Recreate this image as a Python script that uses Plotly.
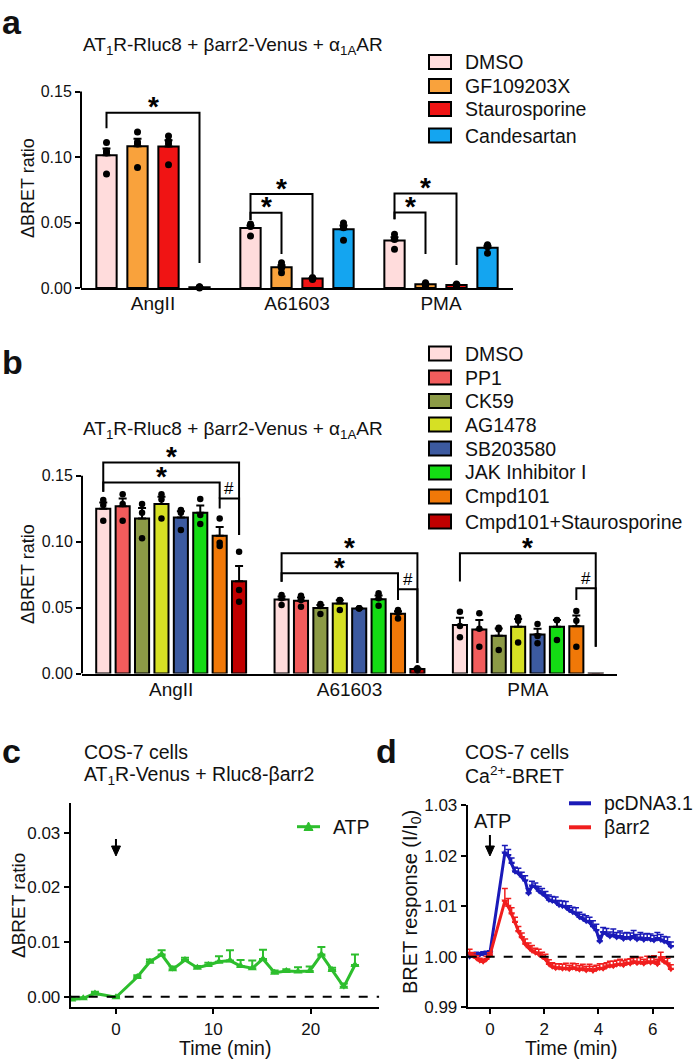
import numpy as np
import plotly.graph_objects as go

W, H = 693, 1062
FONT = "Arial, 'Liberation Sans', Helvetica, sans-serif"


def px(x):
    return x / W


def py(y):
    return 1 - y / H


# ---------------- Panel a data ----------------
a_groups = ["AngII", "A61603", "PMA"]
a_treatments = ["DMSO", "GF109203X", "Staurosporine", "Candesartan"]
a_colors = ["#FFDCDC", "#F9A23C", "#F01414", "#14A5F0"]
a_dmso = [[0.111, 0.1045, 0.103, 0.087], [0.0489, 0.0473, 0.047, 0.0397], [0.041, 0.0379, 0.037, 0.0295]]
a_gf = [[0.119, 0.1115, 0.110, 0.092], [0.0193, 0.017, 0.015, 0.0117], [0.004, 0.003, 0.0025, 0.002]]
a_stauro = [[0.116, 0.112, 0.110, 0.094], [0.0075, 0.008, 0.007, 0.0065], [0.003, 0.002, 0.0025, 0.002]]
a_cand = [[0.0005, 0.001, 0.0, 0.0008], [0.0496, 0.047, 0.046, 0.0365], [0.033, 0.032, 0.0315, 0.0265]]
a_reps = [a_dmso, a_gf, a_stauro, a_cand]
# significance brackets: (group, bar_from, bar_to, top, left_end, right_end, label)
a_brackets = [
    (0, 0, 3, 0.1338, 0.122, 0.019, "*"),
    (1, 0, 2, 0.0717, 0.052, 0.0107, "*"),
    (1, 0, 1, 0.0575, 0.052, 0.026, "*"),
    (2, 0, 2, 0.0722, 0.0524, 0.0175, "*"),
    (2, 0, 1, 0.0577, 0.0524, 0.026, "*"),
]

# ---------------- Panel b data ----------------
b_groups = ["AngII", "A61603", "PMA"]
b_treatments = ["DMSO", "PP1", "CK59", "AG1478", "SB203580", "JAK Inhibitor I",
                "Cmpd101", "Cmpd101+Staurosporine"]
b_colors = ["#FFDCDC", "#F25C5C", "#8C9A46", "#D6E024", "#3C5AA0", "#14DC14",
            "#F07808", "#C00000"]
b_dmso = [[0.1315, 0.1277, 0.1158], [0.0595, 0.057, 0.0519], [0.0468, 0.036, 0.0274]]
b_pp1 = [[0.136, 0.1285, 0.1158], [0.059, 0.0557, 0.0506], [0.0456, 0.034, 0.0203]]
b_ck59 = [[0.1285, 0.1219, 0.1025], [0.0527, 0.0512, 0.0451], [0.0347, 0.0335, 0.0178]]
b_ag1478 = [[0.136, 0.132, 0.1176], [0.0557, 0.0555, 0.0481], [0.0426, 0.040, 0.0236]]
b_sb = [[0.124, 0.1219, 0.1088], [0.0494, 0.0492, 0.0495], [0.0375, 0.0284, 0.0229]]
b_jak = [[0.1323, 0.1201, 0.1133], [0.0608, 0.057, 0.0514], [0.0406, 0.0404, 0.0254]]
b_cmpd = [[0.1176, 0.0991, 0.0966], [0.0481, 0.046, 0.0418], [0.0474, 0.040, 0.0203]]
b_cmpd_st = [[0.0923, 0.0633, 0.0544], [0.004, 0.0035, 0.0025], [-0.001, -0.0008, -0.0006]]
b_reps = [b_dmso, b_pp1, b_ck59, b_ag1478, b_sb, b_jak, b_cmpd, b_cmpd_st]
b_brackets = [
    (0, 0, 7, 0.160, 0.1378, 0.105, "*"),
    (0, 0, 6, 0.1449, 0.1378, 0.1328, "*"),
    (0, 6, 7, 0.1328, 0.1252, 0.105, "#"),
    (1, 0, 7, 0.0911, 0.0696, 0.008, "*"),
    (1, 0, 6, 0.076, 0.0696, 0.0638, "*"),
    (1, 6, 7, 0.0638, 0.0557, 0.008, "#"),
    (2, 0, 7, 0.0911, 0.0697, 0.0203, "*"),
    (2, 6, 7, 0.0646, 0.0557, 0.0203, "#"),
]

# ---------------- Panel c data ----------------
c_time = [-4.55, -3.36, -2.16, 0.0, 2.19, 3.49, 4.69, 5.82, 7.09, 8.36, 9.49, 10.58,
          11.71, 12.8, 14.0, 15.1, 16.3, 17.5, 18.7, 19.9, 21.1, 22.2, 23.4, 24.55]
c_atp = [-0.0005, -0.0003, 0.0006, -0.0001, 0.0036, 0.0064, 0.0077, 0.0050, 0.0067, 0.0053,
         0.0058, 0.0064, 0.0066, 0.0056, 0.0052, 0.0069, 0.0044, 0.0047, 0.0046, 0.0047,
         0.0077, 0.0049, 0.0018, 0.0058]
c_sem = [0.0003, 0.0002, 0.0003, 0.0002, 0.0003, 0.0004, 0.0008, 0.0005, 0.0004, 0.0003,
         0.0004, 0.0010, 0.0019, 0.0011, 0.0014, 0.0017, 0.0004, 0.0003, 0.0008, 0.0008,
         0.0014, 0.0004, 0.0006, 0.0019]

# ---------------- Panel d data ----------------
d_time = [-0.75, -0.625, -0.5, -0.375, -0.25, -0.125, 0.0,
          0.55, 0.675, 0.8, 0.925, 1.05, 1.175, 1.3, 1.425, 1.55, 1.675,
          1.8, 1.925, 2.05, 2.175, 2.3, 2.425, 2.55, 2.675, 2.8, 2.925,
          3.05, 3.175, 3.3, 3.425, 3.55, 3.675, 3.8, 3.925, 4.05, 4.175,
          4.3, 4.425, 4.55, 4.675, 4.8, 4.925, 5.05, 5.175, 5.3, 5.425,
          5.55, 5.675, 5.8, 5.925, 6.05, 6.175, 6.3, 6.425, 6.55, 6.675]
d_pcdna = [1.0000, 1.0003, 1.0005, 1.0004, 1.0006, 1.0007, 1.0008,
           1.0205, 1.0200, 1.0185, 1.0168, 1.0165, 1.0158, 1.0150, 1.0125, 1.0140, 1.0138,
           1.0130, 1.0125, 1.0120, 1.0112, 1.0110, 1.0108, 1.0102, 1.0100, 1.0098, 1.0092,
           1.0088, 1.0085, 1.0078, 1.0075, 1.0070, 1.0068, 1.0060, 1.0052, 1.0030, 1.0048,
           1.0045, 1.0040, 1.0043, 1.0038, 1.0040, 1.0035, 1.0038, 1.0036, 1.0040, 1.0034,
           1.0037, 1.0033, 1.0036, 1.0034, 1.0032, 1.0036, 1.0033, 1.0030, 1.0028, 1.0020]
d_pcdna_sem = [0.0004, 0.0004, 0.0004, 0.0004, 0.0004, 0.0004, 0.0004,
               0.0015, 0.0012, 0.0010, 0.0009, 0.0010, 0.0009, 0.0010, 0.0010, 0.0009, 0.0008,
               0.0009, 0.0010, 0.0009, 0.0010, 0.0009, 0.0010, 0.0009, 0.0010, 0.0011, 0.0009,
               0.0010, 0.0012, 0.0010, 0.0009, 0.0011, 0.0010, 0.0011, 0.0012, 0.0012, 0.0010,
               0.0011, 0.0009, 0.0012, 0.0010, 0.0011, 0.0012, 0.0010, 0.0011, 0.0012, 0.0010,
               0.0011, 0.0012, 0.0010, 0.0011, 0.0010, 0.0012, 0.0011, 0.0010, 0.0011, 0.0009]
d_barr2 = [1.0007, 1.0002, 0.9997, 0.9992, 0.9990, 0.9995, 1.0003,
           1.0110, 1.0100, 1.0085, 1.0068, 1.0050, 1.0038, 1.0025, 1.0018, 1.0012, 1.0008,
           1.0005, 1.0000, 0.9995, 0.9985, 0.9980, 0.9977, 0.9978, 0.9976, 0.9977, 0.9975,
           0.9978, 0.9976, 0.9974, 0.9976, 0.9973, 0.9975, 0.9972, 0.9975, 0.9977, 0.9976,
           0.9980, 0.9982, 0.9981, 0.9984, 0.9985, 0.9983, 0.9987, 0.9986, 0.9990, 0.9987,
           0.9989, 0.9986, 0.9990, 0.9988, 0.9990, 0.9985, 0.9998, 0.9990, 0.9986, 0.9975]
d_barr2_sem = [0.0008, 0.0006, 0.0005, 0.0005, 0.0005, 0.0006, 0.0005,
               0.0025, 0.0015, 0.0012, 0.0010, 0.0010, 0.0009, 0.0010, 0.0009, 0.0010, 0.0009,
               0.0010, 0.0009, 0.0010, 0.0009, 0.0008, 0.0009, 0.0008, 0.0009, 0.0010, 0.0008,
               0.0009, 0.0010, 0.0008, 0.0009, 0.0008, 0.0010, 0.0009, 0.0008, 0.0009, 0.0010,
               0.0008, 0.0009, 0.0010, 0.0009, 0.0010, 0.0009, 0.0008, 0.0010, 0.0009, 0.0011,
               0.0010, 0.0009, 0.0011, 0.0010, 0.0012, 0.0010, 0.0011, 0.0010, 0.0011, 0.0009]

# ---------------- style / layout constants ----------------
GREEN = "#2DBE2D"
BLUE = "#1A1AB8"
RED = "#F01E1E"
TICKFONT = dict(family=FONT, size=16, color="#111")
TICKFONT_CD = dict(family=FONT, size=17, color="#111")
CATFONT = dict(family=FONT, size=19, color="#111")

# plot-area boxes in pixels: (left, right, top, bottom)
A_BOX = (81, 513, 70, 288)
B_BOX = (82, 617, 445, 673.5)
C_BOX = (70.7, 379.3, 803.3, 1007.3)
D_BOX = (467.7, 674.3, 805, 1007.3)
C_XRANGE = [-4.65, 27.05]
D_XRANGE = [-0.82, 6.8]


def bar_x(g, i, n, pitch):
    return g + (i - (n - 1) / 2) * pitch


fig = go.Figure()
shapes = []
annotations = []


def bar_panel(reps, colors, n_groups, pitch, width, xa, ya, dot_size):
    n = len(reps)
    for i, (rep, col) in enumerate(zip(reps, colors)):
        xs = [bar_x(g, i, n, pitch) for g in range(n_groups)]
        arr = [np.array(r) for r in rep]
        means = [float(a.mean()) for a in arr]
        sems = [float(a.std(ddof=1) / np.sqrt(len(a))) for a in arr]
        fig.add_trace(go.Bar(
            x=xs, y=means, width=width, xaxis=xa, yaxis=ya,
            marker=dict(color=col, line=dict(color="black", width=2)),
            error_y=dict(type="data", array=sems, arrayminus=[0] * len(sems),
                         symmetric=False, color="black", thickness=2, width=4),
            showlegend=False, hoverinfo="skip"))
        dx, dy = [], []
        for xv, a in zip(xs, arr):
            for v in a:
                dx.append(xv)
                dy.append(float(v))
        fig.add_trace(go.Scatter(
            x=dx, y=dy, mode="markers", xaxis=xa, yaxis=ya, cliponaxis=False,
            marker=dict(color="black", size=dot_size), showlegend=False,
            hoverinfo="skip"))


def brackets(blist, n, pitch, xr, yr, star_size):
    for g, i0, i1, top, lend, rend, lab in blist:
        x0 = bar_x(g, i0, n, pitch)
        x1 = bar_x(g, i1, n, pitch)
        shapes.append(dict(type="path", xref=xr, yref=yr,
                           path=f"M {x0},{lend} L {x0},{top} L {x1},{top} L {x1},{rend}",
                           line=dict(color="black", width=2)))
        if lab == "*":
            annotations.append(dict(x=(x0 + x1) / 2, y=top, xref=xr, yref=yr, text="*",
                                    showarrow=False, xanchor="center", yanchor="middle",
                                    yshift=6,
                                    font=dict(family=FONT, size=star_size, color="black",
                                              weight="bold")))
        else:
            annotations.append(dict(x=(x0 + x1) / 2, y=top, xref=xr, yref=yr, text="#",
                                    showarrow=False, xanchor="center", yanchor="middle",
                                    yshift=10,
                                    font=dict(family=FONT, size=17, color="black")))


# Panel a
A_PITCH, A_W = 0.2153, 0.141
bar_panel(a_reps, a_colors, 3, A_PITCH, A_W, "x", "y", 7)
brackets(a_brackets, 4, A_PITCH, "x", "y", 28)

# Panel b
B_PITCH, B_W = 0.1088, 0.079
bar_panel(b_reps, b_colors, 3, B_PITCH, B_W, "x2", "y2", 6.5)
brackets(b_brackets, 8, B_PITCH, "x2", "y2", 28)

# Panel c
fig.add_trace(go.Scatter(
    x=c_time, y=c_atp, mode="lines+markers", xaxis="x3", yaxis="y3",
    line=dict(color=GREEN, width=3),
    marker=dict(symbol="triangle-up", size=8, color=GREEN),
    error_y=dict(type="data", array=c_sem, arrayminus=[0] * len(c_sem), symmetric=False,
                 color=GREEN, thickness=2, width=4),
    showlegend=False, hoverinfo="skip"))

# Panel d
for yv, ysem, col in [(d_pcdna, d_pcdna_sem, BLUE), (d_barr2, d_barr2_sem, RED)]:
    fig.add_trace(go.Scatter(
        x=d_time, y=yv, mode="lines+markers", xaxis="x4", yaxis="y4",
        line=dict(color=col, width=3),
        marker=dict(symbol="triangle-down", size=6, color=col),
        error_y=dict(type="data", array=ysem, arrayminus=[0] * len(ysem), symmetric=False,
                     color=col, thickness=1.5, width=3),
        showlegend=False, hoverinfo="skip"))

# axis lines for bar panels (stop at 0.15)
for xref, yref in [("x domain", "y"), ("x2 domain", "y2")]:
    shapes.append(dict(type="line", xref=xref, yref=yref, x0=0, x1=0, y0=0, y1=0.15,
                       line=dict(color="black", width=2)))

# dashed reference lines
shapes.append(dict(type="line", xref="x3", yref="y3", x0=C_XRANGE[0], x1=C_XRANGE[1],
                   y0=0, y1=0, line=dict(color="black", width=2, dash="dash")))
shapes.append(dict(type="line", xref="x4", yref="y4", x0=D_XRANGE[0], x1=D_XRANGE[1],
                   y0=1.0, y1=1.0, line=dict(color="black", width=2, dash="dash")))

# legends for bar panels
for names, cols, ys in [(a_treatments, a_colors, [62, 86, 109, 135.5]),
                        (b_treatments, b_colors, [353.5, 377.5, 401, 424.5, 448.5, 472.5, 496.5, 521.5])]:
    for nm, col, yc in zip(names, cols, ys):
        shapes.append(dict(type="rect", xref="paper", yref="paper",
                           x0=px(429), x1=px(451), y0=py(yc - 7), y1=py(yc + 7),
                           fillcolor=col, line=dict(color="black", width=2)))
        annotations.append(dict(x=px(463), y=py(yc), xref="paper", yref="paper", text=nm,
                                showarrow=False, xanchor="left", yanchor="middle",
                                font=dict(family=FONT, size=19.5, color="#111")))

# legend panel c (line with triangle marker)
shapes.append(dict(type="line", xref="paper", yref="paper", x0=px(297), x1=px(320),
                   y0=py(826.7), y1=py(826.7), line=dict(color=GREEN, width=3)))
shapes.append(dict(type="path", xref="paper", yref="paper",
                   path=f"M {px(304)},{py(830.5)} L {px(313)},{py(830.5)} L {px(308.5)},{py(822)} Z",
                   fillcolor=GREEN, line=dict(color=GREEN, width=1)))
annotations.append(dict(x=px(331), y=py(826.7), xref="paper", yref="paper", text="ATP",
                        showarrow=False, xanchor="left", yanchor="middle",
                        font=dict(family=FONT, size=19.5, color="#111")))
# legend panel d
for yc, col, nm in [(803.3, BLUE, "pcDNA3.1"), (827.3, RED, "βarr2")]:
    shapes.append(dict(type="line", xref="paper", yref="paper", x0=px(569), x1=px(591),
                       y0=py(yc), y1=py(yc), line=dict(color=col, width=4)))
    annotations.append(dict(x=px(602), y=py(yc), xref="paper", yref="paper", text=nm,
                            showarrow=False, xanchor="left", yanchor="middle",
                            font=dict(family=FONT, size=19.5, color="#111")))


# down arrows marking ATP addition (at time 0), drawn as shapes
def down_arrow(xref, box, xrange, tail_px, head_px):
    upp = (xrange[1] - xrange[0]) / (box[1] - box[0])  # data units per pixel
    hw = 4.5 * upp
    shapes.append(dict(type="line", xref=xref, yref="paper", x0=0, x1=0,
                       y0=py(tail_px), y1=py(head_px - 6),
                       line=dict(color="black", width=2)))
    shapes.append(dict(type="path", xref=xref, yref="paper",
                       path=f"M {-hw},{py(head_px - 10)} L {hw},{py(head_px - 10)} L 0,{py(head_px)} Z",
                       fillcolor="black", line=dict(color="black", width=1)))


down_arrow("x3", C_BOX, C_XRANGE, 839, 856)
down_arrow("x4", D_BOX, D_XRANGE, 835, 856)
annotations.append(dict(x=px(492.7), y=py(821), xref="paper", yref="paper", text="ATP",
                        showarrow=False, xanchor="center", yanchor="middle",
                        font=dict(family=FONT, size=20, color="#111")))


# text: panel letters, titles, axis titles
def txt(x, y, t, size=19, xa="left", angle=0, bold=False):
    annotations.append(dict(x=px(x), y=py(y), xref="paper", yref="paper",
                            text=t, showarrow=False,
                            xanchor=xa, yanchor="middle", textangle=angle,
                            font=dict(family=FONT, size=size, color="#111",
                                      weight="bold" if bold else "normal")))


txt(0, 22, "a", 34, bold=True)
txt(0, 362, "b", 34, bold=True)
txt(0, 751, "c", 34, bold=True)
txt(374, 751, "d", 34, bold=True)
TITLE = "AT<sub>1</sub>R-Rluc8 + βarr2-Venus + α<sub>1A</sub>AR"
txt(81, 46, TITLE, 19)
txt(81, 430, TITLE, 19)
txt(82, 752, "COS-7 cells", 19.5)
txt(82, 775, "AT<sub>1</sub>R-Venus + Rluc8-βarr2", 19.5)
txt(463, 752, "COS-7 cells", 19.5)
txt(463, 775, "Ca<sup>2+</sup>-BRET", 19.5)
txt(28, 188, "ΔBRET ratio", 18, xa="center", angle=-90)
txt(28, 574, "ΔBRET ratio", 18, xa="center", angle=-90)
txt(18, 906, "ΔBRET ratio", 19, xa="center", angle=-90)
txt(411, 902, "BRET response (I/I<sub>0</sub>)", 20, xa="center", angle=-90)
txt(225, 1048, "Time (min)", 19.5, xa="center")
txt(571, 1048, "Time (min)", 19.5, xa="center")

AX = dict(showgrid=False, zeroline=False, linecolor="black", linewidth=2, automargin=False,
          tickcolor="black", tickwidth=2, ticklen=5, tickfont=TICKFONT)


def xdom(box):
    return [px(box[0]), px(box[1])]


def ydom(box):
    return [py(box[3]), py(box[2])]


fig.update_layout(
    template="none",
    width=W, height=H, margin=dict(l=0, r=0, t=0, b=0, pad=0), autosize=False,
    paper_bgcolor="white", plot_bgcolor="white", showlegend=False,
    barmode="overlay", font=dict(family=FONT, color="#111"),
    xaxis=dict(AX, domain=xdom(A_BOX), range=[-0.5, 2.5], anchor="y",
               tickvals=[0, 1, 2], ticktext=a_groups, ticks="", showline=True,
               tickfont=CATFONT, ticklabelstandoff=-3),
    yaxis=dict(AX, domain=ydom(A_BOX), range=[0, (A_BOX[3] - A_BOX[2]) / 1310.0], anchor="x",
               tickvals=[0, 0.05, 0.10, 0.15], tickformat=".2f", ticks="outside",
               showline=False),
    xaxis2=dict(AX, domain=xdom(B_BOX), range=[-0.5, 2.5], anchor="y2",
                tickvals=[0, 1, 2], ticktext=b_groups, ticks="", showline=True,
                tickfont=CATFONT, ticklabelstandoff=-2),
    yaxis2=dict(AX, domain=ydom(B_BOX), range=[0, (B_BOX[3] - B_BOX[2]) / 1318.7],
                anchor="x2", tickvals=[0, 0.05, 0.10, 0.15], tickformat=".2f",
                ticks="outside", showline=False),
    xaxis3=dict(AX, domain=xdom(C_BOX), range=C_XRANGE, anchor="y3",
                tickvals=[0, 10, 20], ticks="outside", showline=True, tickfont=TICKFONT_CD),
    yaxis3=dict(AX, domain=ydom(C_BOX), range=[-0.00194, 0.03537], anchor="x3",
                tickvals=[0, 0.01, 0.02, 0.03], tickformat=".2f", ticks="outside",
                showline=True, tickfont=TICKFONT_CD),
    xaxis4=dict(AX, domain=xdom(D_BOX), range=D_XRANGE, anchor="y4",
                tickvals=[0, 2, 4, 6], ticks="outside", showline=True, tickfont=TICKFONT_CD),
    yaxis4=dict(AX, domain=ydom(D_BOX), range=[0.99, 1.03], anchor="x4",
                tickvals=[0.99, 1.00, 1.01, 1.02, 1.03], tickformat=".2f",
                ticks="outside", showline=True, tickfont=TICKFONT_CD),
    shapes=shapes, annotations=annotations,
)

# remove the browser's default 8px page margin so the figure fills the window exactly
fig.write_html("out.html", config={"displayModeBar": False},
               post_script="document.body.style.margin='0';document.body.style.padding='0';")
